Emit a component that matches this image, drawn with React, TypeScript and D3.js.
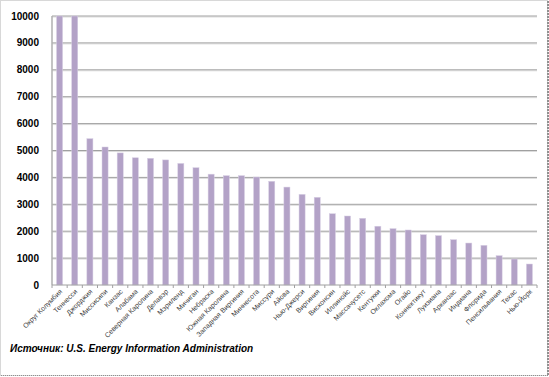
import React from "react";
import * as d3 from "d3";

const categories = [
  "Округ Колумбия", "Теннесси", "Джорджия", "Миссисипи", "Канзас", "Алабама",
  "Северная Каролина", "Делавэр", "Мэриленд", "Мичиган", "Небраска", "Южная Каролина",
  "Западная Виргиния", "Миннесота", "Миссури", "Айова", "Нью-Джерси", "Виргиния",
  "Висконсин", "Иллинойс", "Массачусетс", "Кентукки", "Оклахома", "Огайо",
  "Коннектикут", "Луизиана", "Арканзас", "Индиана", "Флорида", "Пенсильвания",
  "Техас", "Нью-Йорк",
];
const values = [
  10000, 10000, 5440, 5130, 4910, 4730, 4710, 4650, 4520, 4360, 4120, 4065,
  4065, 4015, 3855, 3640, 3370, 3260, 2650, 2565, 2480, 2185, 2095, 2045,
  1870, 1835, 1685, 1560, 1475, 1090, 965, 780,
];
const yTicks = [0, 1000, 2000, 3000, 4000, 5000, 6000, 7000, 8000, 9000, 10000];
const caption = "Источник: U.S. Energy Information Administration";

const W = 549, H = 377;
const left = 52, right = 537, top = 16, bottom = 285;

export default function App() {
  const x = d3.scaleBand<string>().domain(categories).range([left, right]).paddingInner(0.6).paddingOuter(0.3);
  const xb = d3.scaleBand<string>().domain(categories).range([left, right]);
  const y = d3.scaleLinear().domain([0, 10000]).range([bottom, top]);
  return (
    <svg width={W} height={H} style={{ position: "absolute", left: 0, top: 0, background: "#fff" }}
      fontFamily="Liberation Sans, Arial, sans-serif">
      <rect x={0.5} y={0.5} width={W - 2} height={H - 2} fill="none" stroke="#b0b0b0" strokeDasharray="1,1" />
      <line x1={W - 1} x2={W - 1} y1={1} y2={H - 1} stroke="#909090" strokeWidth={2} strokeDasharray="2,1" />
      <line x1={1} x2={W - 1} y1={H - 1.5} y2={H - 1.5} stroke="#909090" strokeWidth={1} strokeDasharray="1,1" />
      {yTicks.filter(t => t > 0).map(t => (
        <g key={t}>
          <line x1={left} x2={right} y1={y(t) + 1} y2={y(t) + 1} stroke="#dcdcdc" />
          <line x1={left} x2={right} y1={y(t)} y2={y(t)} stroke="#a0a0a0" />
        </g>
      ))}
      {yTicks.map(t => (
        <text key={t} x={39} y={y(t) + 3.5} textAnchor="end" fontSize={10} fontWeight="bold" fill="#000">{t}</text>
      ))}
      <line x1={left} x2={left} y1={top} y2={bottom} stroke="#b0b0b0" strokeWidth={1.5} />
      {categories.map((c, i) => (
        <rect key={c} x={x(c)} y={y(values[i])} width={x.bandwidth()} height={bottom - y(values[i])}
          fill="#b3a2c7" stroke="#d8cfe4" strokeWidth={0.5} />
      ))}
      <line x1={left} x2={right} y1={bottom} y2={bottom} stroke="#a0a0a0" />
      {categories.map(c => (
        <line key={c} x1={(xb(c) as number) + xb.bandwidth()} x2={(xb(c) as number) + xb.bandwidth()}
          y1={bottom} y2={bottom + 3} stroke="#a0a0a0" />
      ))}
      <line x1={left} x2={left} y1={bottom} y2={bottom + 3} stroke="#a0a0a0" />
      {categories.map(c => {
        const cx = (xb(c) as number) + xb.bandwidth() / 2 + 3;
        const cy = bottom + 7;
        return (
          <text key={c} transform={`translate(${cx},${cy}) rotate(-45)`} textAnchor="end" fontSize={7}
            fill="#404040">{c}</text>
        );
      })}
      <text x={10} y={352} fontSize={10} fontWeight="bold" fontStyle="italic" fill="#000">{caption}</text>
    </svg>
  );
}
